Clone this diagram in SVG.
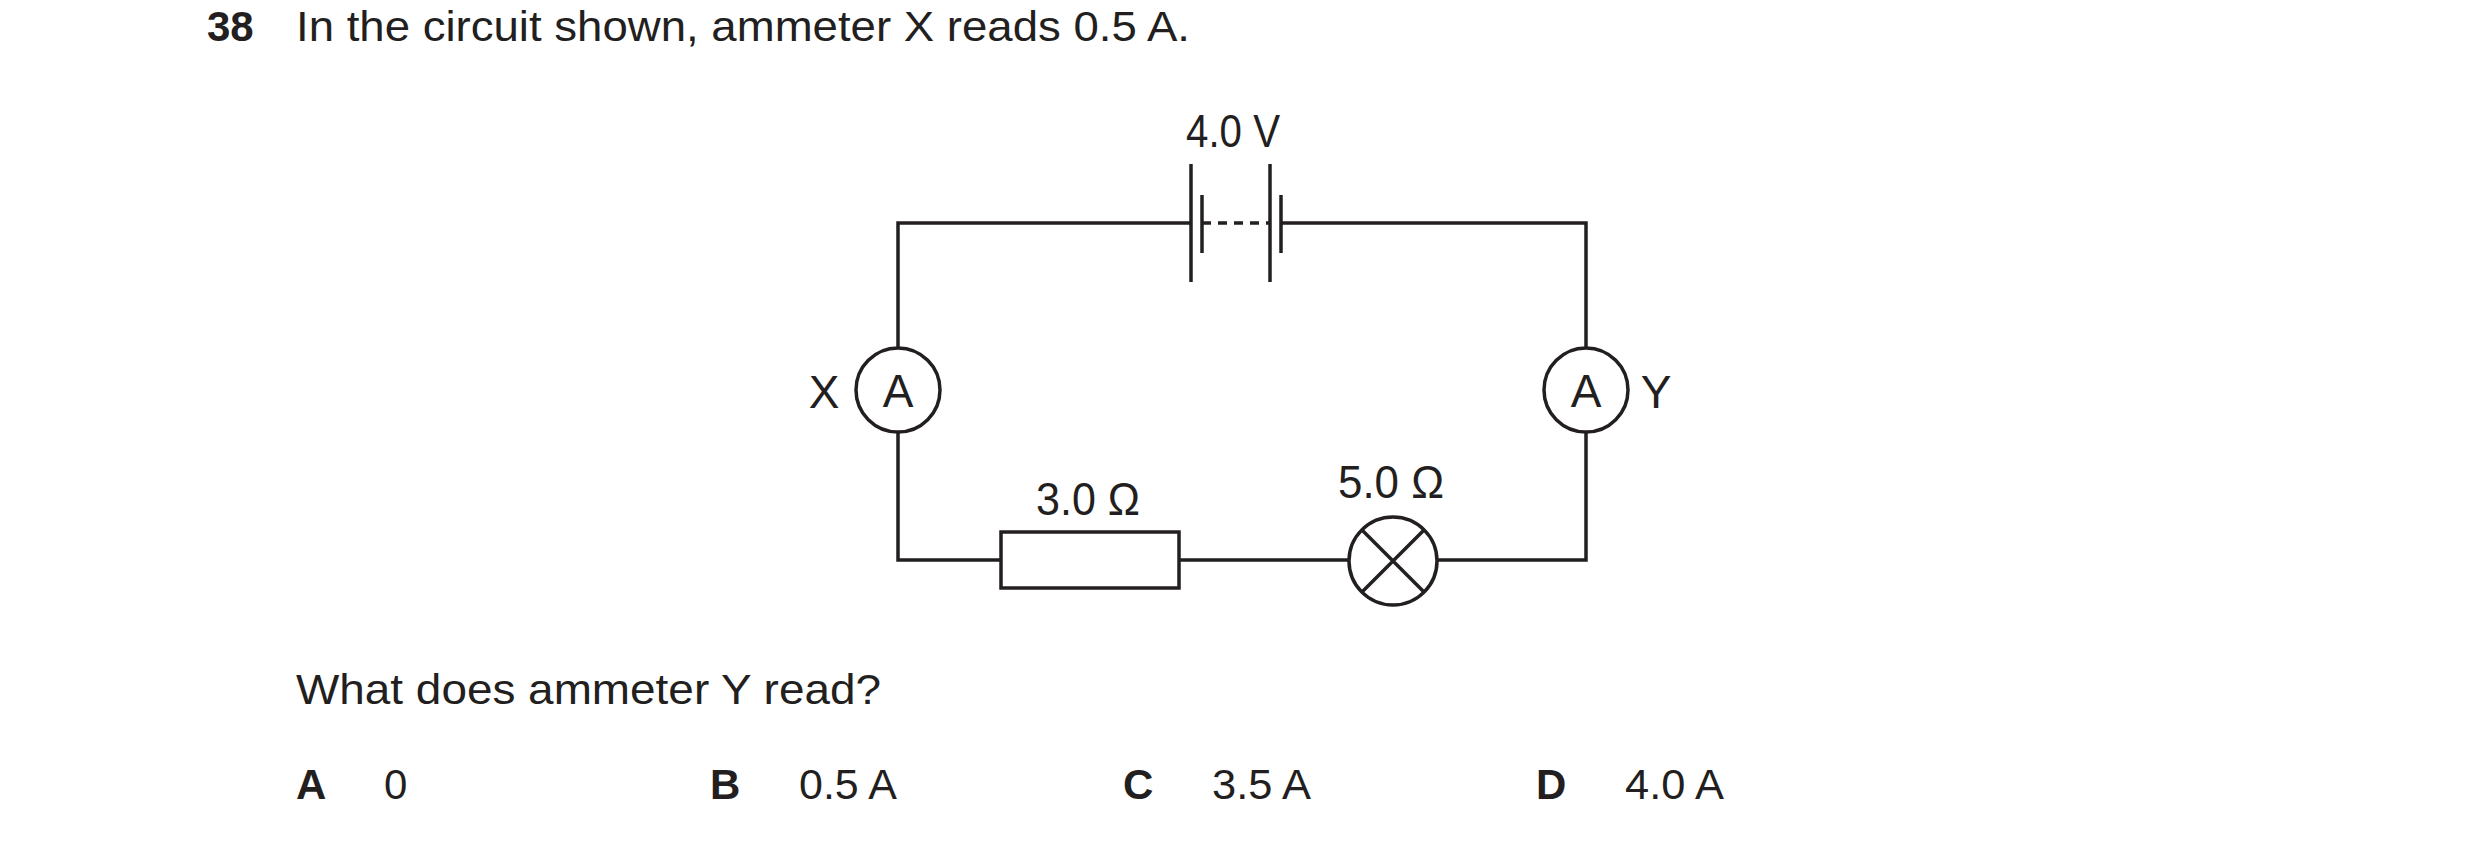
<svg xmlns="http://www.w3.org/2000/svg" width="2480" height="841" viewBox="0 0 2480 841">
<style>
text{font-family:"Liberation Sans",Arial,sans-serif;fill:#231f20;font-size:42px}
.b{font-weight:bold}
.m{text-anchor:middle}
.c{font-size:46px}
.w{stroke:#231f20;stroke-width:3.5;fill:none}
</style>
<rect width="2480" height="841" fill="#fff"/>
<text x="207" y="41" class="b">38</text>
<text x="296" y="41" textLength="894" lengthAdjust="spacingAndGlyphs">In the circuit shown, ammeter X reads 0.5 A.</text>
<g id="connectors" class="w">
<path d="M1191 223H898V348M898 432V560H1001M1179 560H1350M1438 560H1586V432M1586 348V223H1281"/>
</g>
<g id="battery" class="w">
<line x1="1191" y1="164" x2="1191" y2="282"/>
<line x1="1202" y1="195" x2="1202" y2="253"/>
<line x1="1202" y1="223" x2="1270" y2="223" stroke-dasharray="9,7"/>
<line x1="1270" y1="164" x2="1270" y2="282"/>
<line x1="1281" y1="195" x2="1281" y2="253"/>
<text x="1186" y="147" class="c" stroke="none" textLength="94" lengthAdjust="spacingAndGlyphs">4.0 V</text>
</g>
<g id="ammeterX">
<circle cx="898" cy="390" r="42" class="w"/>
<text x="898" y="407" class="m c">A</text>
<text x="824" y="408" class="m c">X</text>
</g>
<g id="ammeterY">
<circle cx="1586" cy="390" r="42" class="w"/>
<text x="1586" y="407" class="m c">A</text>
<text x="1656" y="408" class="m c">Y</text>
</g>
<g id="resistor">
<rect x="1001" y="532" width="178" height="56" class="w"/>
<text x="1036" y="515" class="c" textLength="104" lengthAdjust="spacingAndGlyphs">3.0 Ω</text>
</g>
<g id="lamp">
<circle cx="1393" cy="561" r="44" class="w"/>
<path d="M1362 530L1424 592M1424 530L1362 592" class="w"/>
<text x="1338" y="498" class="c" textLength="106" lengthAdjust="spacingAndGlyphs">5.0 Ω</text>
</g>
<text x="296" y="704" textLength="585" lengthAdjust="spacingAndGlyphs">What does ammeter Y read?</text>
<text x="296" y="799" class="b">A</text><text x="384" y="799">0</text>
<text x="710" y="799" class="b">B</text><text x="799" y="799" textLength="98" lengthAdjust="spacingAndGlyphs">0.5 A</text>
<text x="1123" y="799" class="b">C</text><text x="1212" y="799" textLength="99" lengthAdjust="spacingAndGlyphs">3.5 A</text>
<text x="1536" y="799" class="b">D</text><text x="1625" y="799" textLength="99" lengthAdjust="spacingAndGlyphs">4.0 A</text>
</svg>
